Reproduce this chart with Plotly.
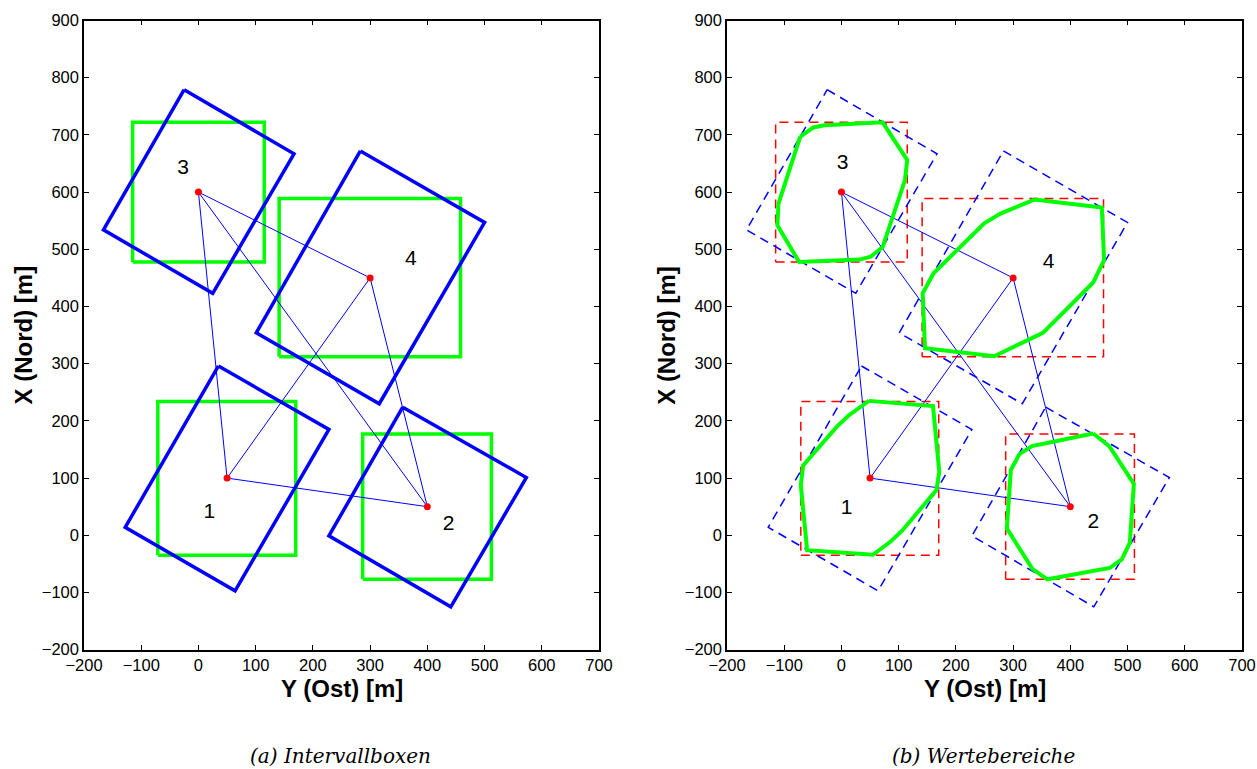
import plotly.graph_objects as go

# ---------------- data ----------------
sensor_labels = ["1", "2", "3", "4"]
sensor_y = [50, 400, 0, 300]      # Y (Ost)
sensor_x = [100, 50, 600, 450]    # X (Nord)
pairs = [(0, 2), (0, 3), (0, 1), (2, 3), (2, 1), (3, 1)]

# axis-aligned interval boxes per sensor
box_ymin = [-71, 287, -115, 141]
box_ymax = [170, 512, 115, 458]
box_xmin = [-35, -77, 478, 312]
box_xmax = [234, 177, 722, 589]

# rotated boxes (corner lists, Y and X)
rot_y = [
    [35, 228, 64, -128],
    [357, 573, 441, 228],
    [-25, 167, 25, -166],
    [283, 500, 316, 101],
]
rot_x = [
    [296, 185, -97, 14],
    [224, 101, -125, -1],
    [779, 667, 423, 534],
    [672, 547, 230, 354],
]

# value ranges (polygons) for panel b
poly_y = [
    [48, 160, 171, 166, 106, 86, 55, -60, -71, -67, -8, 12],
    [440, 468, 511, 504, 490, 469, 360, 334, 289, 296, 311, 333],
    [-72, -49, -30, 72, 115, 111, 72, 51, 32, -74, -112, -110],
    [337, 455, 459, 440, 352, 267, 146, 142, 161, 249, 277],
]
poly_x = [
    [235, 226, 111, 79, 8, -11, -34, -26, 88, 122, 190, 209],
    [178, 156, 90, -13, -42, -57, -77, -59, 12, 114, 142, 156],
    [697, 713, 717, 722, 656, 621, 504, 487, 482, 478, 542, 580],
    [587, 573, 481, 442, 354, 313, 327, 423, 458, 545, 562],
]

# label positions (Y, X)
lab_a_y = [19, 437, -27, 371]
lab_a_x = [40, 19, 640, 481]
lab_b_y = [9, 440, 2, 362]
lab_b_x = [47, 22, 650, 477]

x_ticks = list(range(-200, 701, 100))
y_ticks = list(range(-200, 901, 100))

BLUE = "rgb(0,0,255)"
GREEN = "rgb(0,255,0)"
RED = "rgb(255,0,0)"

fig = go.Figure()


def closed(v):
    return list(v) + [v[0]]


def add_panel(xr, yr, panel):
    if panel == "a":
        for i in range(4):
            fig.add_trace(go.Scatter(
                x=[box_ymin[i], box_ymax[i], box_ymax[i], box_ymin[i], box_ymin[i]],
                y=[box_xmin[i], box_xmin[i], box_xmax[i], box_xmax[i], box_xmin[i]],
                mode="lines", line=dict(color=GREEN, width=3.5),
                xaxis=xr, yaxis=yr, showlegend=False, hoverinfo="skip"))
        for i in range(4):
            fig.add_trace(go.Scatter(
                x=closed(rot_y[i]), y=closed(rot_x[i]),
                mode="lines", line=dict(color=BLUE, width=3.5),
                xaxis=xr, yaxis=yr, showlegend=False, hoverinfo="skip"))
    else:
        for i in range(4):
            fig.add_trace(go.Scatter(
                x=[box_ymin[i], box_ymax[i], box_ymax[i], box_ymin[i], box_ymin[i]],
                y=[box_xmin[i], box_xmin[i], box_xmax[i], box_xmax[i], box_xmin[i]],
                mode="lines", line=dict(color=RED, width=1.5, dash="9px,6px"),
                xaxis=xr, yaxis=yr, showlegend=False, hoverinfo="skip"))
        for i in range(4):
            fig.add_trace(go.Scatter(
                x=closed(rot_y[i]), y=closed(rot_x[i]),
                mode="lines", line=dict(color=BLUE, width=1.5, dash="9px,6px"),
                xaxis=xr, yaxis=yr, showlegend=False, hoverinfo="skip"))
    # connecting lines
    ly, lx = [], []
    for a, b in pairs:
        ly += [sensor_y[a], sensor_y[b], None]
        lx += [sensor_x[a], sensor_x[b], None]
    fig.add_trace(go.Scatter(x=ly, y=lx, mode="lines",
                             line=dict(color=BLUE, width=1),
                             xaxis=xr, yaxis=yr, showlegend=False, hoverinfo="skip"))
    if panel == "b":
        for i in range(4):
            fig.add_trace(go.Scatter(
                x=closed(poly_y[i]), y=closed(poly_x[i]),
                mode="lines", line=dict(color=GREEN, width=4),
                xaxis=xr, yaxis=yr, showlegend=False, hoverinfo="skip"))
    fig.add_trace(go.Scatter(x=sensor_y, y=sensor_x, mode="markers",
                             marker=dict(color=RED, size=7),
                             xaxis=xr, yaxis=yr, showlegend=False, hoverinfo="skip"))
    ly2 = lab_a_y if panel == "a" else lab_b_y
    lx2 = lab_a_x if panel == "a" else lab_b_x
    fig.add_trace(go.Scatter(x=ly2, y=lx2, mode="text", text=sensor_labels,
                             textfont=dict(family="Liberation Sans, Arial", size=21, color="black"),
                             xaxis=xr, yaxis=yr, showlegend=False, hoverinfo="skip"))


add_panel("x", "y", "a")
add_panel("x2", "y2", "b")

W, H = 1257, 769
top_px, bot_px = 20.5, 649.7
ydom = [1 - bot_px / H, 1 - top_px / H]
axis_common = dict(showgrid=False, zeroline=False, showline=True, linecolor="black",
                   linewidth=1.5, mirror="ticks", ticks="inside", ticklen=5,
                   tickwidth=1, tickcolor="black", automargin=False,
                   tickfont=dict(family="Liberation Sans, Arial", size=16.5, color="black"))

fig.update_layout(
    width=W, height=H,
    margin=dict(l=0, r=0, t=0, b=0, autoexpand=False),
    paper_bgcolor="white", plot_bgcolor="white",
    xaxis=dict(domain=[84 / W, 599 / W], range=[-200, 700], tickvals=x_ticks,
               anchor="y", **axis_common),
    yaxis=dict(domain=ydom, range=[-200, 900], tickvals=y_ticks, anchor="x", **axis_common),
    xaxis2=dict(domain=[727 / W, 1242 / W], range=[-200, 700], tickvals=x_ticks,
                anchor="y2", **axis_common),
    yaxis2=dict(domain=ydom, range=[-200, 900], tickvals=y_ticks, anchor="x2", **axis_common),
)

title_font = dict(family="Liberation Sans, Arial", size=24, color="black")
cap_font = dict(family="DejaVu Serif", size=20, color="black")
anns = []
for cx, ytx, cap in [((84 + 599) / 2, 22.5, "(a) Intervallboxen"),
                     ((727 + 1242) / 2, 665.8, "(b) Wertebereiche")]:
    anns.append(dict(x=cx / W, y=1 - 688 / H, xref="paper", yref="paper",
                     text="<b>Y (Ost) [m]</b>", showarrow=False, font=title_font,
                     xanchor="center", yanchor="middle"))
    anns.append(dict(x=ytx / W, y=1 - 335 / H, xref="paper", yref="paper",
                     text="<b>X (Nord) [m]</b>", showarrow=False, font=title_font,
                     textangle=-90, xanchor="center", yanchor="middle"))
    anns.append(dict(x=(cx - 1) / W, y=1 - 756 / H, xref="paper", yref="paper",
                     text="<i>" + cap + "</i>", showarrow=False, font=cap_font,
                     xanchor="center", yanchor="middle"))
fig.update_layout(annotations=anns)

fig.write_html("out.html")
